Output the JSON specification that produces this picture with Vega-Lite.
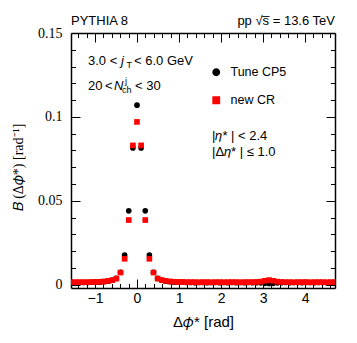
{
  "$schema": "https://vega.github.io/schema/vega-lite/v6.json",
  "width": 264,
  "height": 255,
  "autosize": {"type": "none"},
  "padding": {"left": 71, "top": 33, "right": 22, "bottom": 55},
  "background": "white",
  "config": {
    "view": {"stroke": null},
    "axis": {"domainColor": "black", "domainWidth": 1.5, "tickColor": "black", "tickWidth": 1, "grid": false, "labelColor": "black", "titleColor": "black"},
    "legend": {"padding": 0}
  },
  "datasets": {
    "dist": [
      {"x": -1.5708, "B": 0.0013, "err": 0.0002, "model": "Tune CP5"},
      {"x": -1.4726, "B": 0.0013, "err": 0.0002, "model": "Tune CP5"},
      {"x": -1.3744, "B": 0.0013, "err": 0.0002, "model": "Tune CP5"},
      {"x": -1.2763, "B": 0.0013, "err": 0.0002, "model": "Tune CP5"},
      {"x": -1.1781, "B": 0.0013, "err": 0.0002, "model": "Tune CP5"},
      {"x": -1.0799, "B": 0.0014, "err": 0.0002, "model": "Tune CP5"},
      {"x": -0.9817, "B": 0.0014, "err": 0.0002, "model": "Tune CP5"},
      {"x": -0.8836, "B": 0.0015, "err": 0.0002, "model": "Tune CP5"},
      {"x": -0.7854, "B": 0.0017, "err": 0.0002, "model": "Tune CP5"},
      {"x": -0.6872, "B": 0.0020, "err": 0.0002, "model": "Tune CP5"},
      {"x": -0.5890, "B": 0.0026, "err": 0.0002, "model": "Tune CP5"},
      {"x": -0.4909, "B": 0.0037, "err": 0.0002, "model": "Tune CP5"},
      {"x": -0.3927, "B": 0.0074, "err": 0.0003, "model": "Tune CP5"},
      {"x": -0.2945, "B": 0.0176, "err": 0.0004, "model": "Tune CP5"},
      {"x": -0.1963, "B": 0.0440, "err": 0.0006, "model": "Tune CP5"},
      {"x": -0.0982, "B": 0.0815, "err": 0.0008, "model": "Tune CP5"},
      {"x": 0.0, "B": 0.1070, "err": 0.0009, "model": "Tune CP5"},
      {"x": 0.0982, "B": 0.0815, "err": 0.0008, "model": "Tune CP5"},
      {"x": 0.1963, "B": 0.0440, "err": 0.0006, "model": "Tune CP5"},
      {"x": 0.2945, "B": 0.0176, "err": 0.0004, "model": "Tune CP5"},
      {"x": 0.3927, "B": 0.0074, "err": 0.0003, "model": "Tune CP5"},
      {"x": 0.4909, "B": 0.0037, "err": 0.0002, "model": "Tune CP5"},
      {"x": 0.5890, "B": 0.0026, "err": 0.0002, "model": "Tune CP5"},
      {"x": 0.6872, "B": 0.0020, "err": 0.0002, "model": "Tune CP5"},
      {"x": 0.7854, "B": 0.0017, "err": 0.0002, "model": "Tune CP5"},
      {"x": 0.8836, "B": 0.0015, "err": 0.0002, "model": "Tune CP5"},
      {"x": 0.9817, "B": 0.0014, "err": 0.0002, "model": "Tune CP5"},
      {"x": 1.0799, "B": 0.0014, "err": 0.0002, "model": "Tune CP5"},
      {"x": 1.1781, "B": 0.0013, "err": 0.0002, "model": "Tune CP5"},
      {"x": 1.2763, "B": 0.0013, "err": 0.0002, "model": "Tune CP5"},
      {"x": 1.3744, "B": 0.0012, "err": 0.0002, "model": "Tune CP5"},
      {"x": 1.4726, "B": 0.0013, "err": 0.0002, "model": "Tune CP5"},
      {"x": 1.5708, "B": 0.0013, "err": 0.0002, "model": "Tune CP5"},
      {"x": 1.6690, "B": 0.0012, "err": 0.0002, "model": "Tune CP5"},
      {"x": 1.7671, "B": 0.0013, "err": 0.0002, "model": "Tune CP5"},
      {"x": 1.8653, "B": 0.0013, "err": 0.0002, "model": "Tune CP5"},
      {"x": 1.9635, "B": 0.0012, "err": 0.0002, "model": "Tune CP5"},
      {"x": 2.0617, "B": 0.0013, "err": 0.0002, "model": "Tune CP5"},
      {"x": 2.1598, "B": 0.0012, "err": 0.0002, "model": "Tune CP5"},
      {"x": 2.2580, "B": 0.0013, "err": 0.0002, "model": "Tune CP5"},
      {"x": 2.3562, "B": 0.0012, "err": 0.0002, "model": "Tune CP5"},
      {"x": 2.4544, "B": 0.0013, "err": 0.0002, "model": "Tune CP5"},
      {"x": 2.5525, "B": 0.0012, "err": 0.0002, "model": "Tune CP5"},
      {"x": 2.6507, "B": 0.0013, "err": 0.0002, "model": "Tune CP5"},
      {"x": 2.7489, "B": 0.0012, "err": 0.0002, "model": "Tune CP5"},
      {"x": 2.8471, "B": 0.0012, "err": 0.0002, "model": "Tune CP5"},
      {"x": 2.9452, "B": 0.0011, "err": 0.0003, "model": "Tune CP5"},
      {"x": 3.0434, "B": 0.0008, "err": 0.0004, "model": "Tune CP5"},
      {"x": 3.1416, "B": 0.0007, "err": 0.0004, "model": "Tune CP5"},
      {"x": 3.2398, "B": 0.0008, "err": 0.0004, "model": "Tune CP5"},
      {"x": 3.3379, "B": 0.0011, "err": 0.0003, "model": "Tune CP5"},
      {"x": 3.4361, "B": 0.0012, "err": 0.0002, "model": "Tune CP5"},
      {"x": 3.5343, "B": 0.0013, "err": 0.0002, "model": "Tune CP5"},
      {"x": 3.6325, "B": 0.0012, "err": 0.0002, "model": "Tune CP5"},
      {"x": 3.7306, "B": 0.0013, "err": 0.0002, "model": "Tune CP5"},
      {"x": 3.8288, "B": 0.0013, "err": 0.0002, "model": "Tune CP5"},
      {"x": 3.9270, "B": 0.0012, "err": 0.0002, "model": "Tune CP5"},
      {"x": 4.0252, "B": 0.0013, "err": 0.0002, "model": "Tune CP5"},
      {"x": 4.1233, "B": 0.0013, "err": 0.0002, "model": "Tune CP5"},
      {"x": 4.2215, "B": 0.0012, "err": 0.0002, "model": "Tune CP5"},
      {"x": 4.3197, "B": 0.0013, "err": 0.0002, "model": "Tune CP5"},
      {"x": 4.4179, "B": 0.0013, "err": 0.0002, "model": "Tune CP5"},
      {"x": 4.5160, "B": 0.0012, "err": 0.0002, "model": "Tune CP5"},
      {"x": 4.6142, "B": 0.0013, "err": 0.0002, "model": "Tune CP5"},
      {"x": 4.7124, "B": 0.0013, "err": 0.0002, "model": "Tune CP5"},
      {"x": -1.5708, "B": 0.0015, "err": 0.0002, "model": "new CR"},
      {"x": -1.4726, "B": 0.0015, "err": 0.0002, "model": "new CR"},
      {"x": -1.3744, "B": 0.0015, "err": 0.0002, "model": "new CR"},
      {"x": -1.2763, "B": 0.0015, "err": 0.0002, "model": "new CR"},
      {"x": -1.1781, "B": 0.0015, "err": 0.0002, "model": "new CR"},
      {"x": -1.0799, "B": 0.0016, "err": 0.0002, "model": "new CR"},
      {"x": -0.9817, "B": 0.0016, "err": 0.0002, "model": "new CR"},
      {"x": -0.8836, "B": 0.0017, "err": 0.0002, "model": "new CR"},
      {"x": -0.7854, "B": 0.0019, "err": 0.0002, "model": "new CR"},
      {"x": -0.6872, "B": 0.0022, "err": 0.0002, "model": "new CR"},
      {"x": -0.5890, "B": 0.0027, "err": 0.0002, "model": "new CR"},
      {"x": -0.4909, "B": 0.0036, "err": 0.0002, "model": "new CR"},
      {"x": -0.3927, "B": 0.0072, "err": 0.0003, "model": "new CR"},
      {"x": -0.2945, "B": 0.0154, "err": 0.0004, "model": "new CR"},
      {"x": -0.1963, "B": 0.0385, "err": 0.0007, "model": "new CR"},
      {"x": -0.0982, "B": 0.0830, "err": 0.0010, "model": "new CR"},
      {"x": 0.0, "B": 0.0970, "err": 0.0012, "model": "new CR"},
      {"x": 0.0982, "B": 0.0830, "err": 0.0010, "model": "new CR"},
      {"x": 0.1963, "B": 0.0385, "err": 0.0007, "model": "new CR"},
      {"x": 0.2945, "B": 0.0154, "err": 0.0004, "model": "new CR"},
      {"x": 0.3927, "B": 0.0072, "err": 0.0003, "model": "new CR"},
      {"x": 0.4909, "B": 0.0036, "err": 0.0002, "model": "new CR"},
      {"x": 0.5890, "B": 0.0027, "err": 0.0002, "model": "new CR"},
      {"x": 0.6872, "B": 0.0022, "err": 0.0002, "model": "new CR"},
      {"x": 0.7854, "B": 0.0019, "err": 0.0002, "model": "new CR"},
      {"x": 0.8836, "B": 0.0017, "err": 0.0002, "model": "new CR"},
      {"x": 0.9817, "B": 0.0016, "err": 0.0002, "model": "new CR"},
      {"x": 1.0799, "B": 0.0016, "err": 0.0002, "model": "new CR"},
      {"x": 1.1781, "B": 0.0015, "err": 0.0002, "model": "new CR"},
      {"x": 1.2763, "B": 0.0015, "err": 0.0002, "model": "new CR"},
      {"x": 1.3744, "B": 0.0015, "err": 0.0002, "model": "new CR"},
      {"x": 1.4726, "B": 0.0014, "err": 0.0002, "model": "new CR"},
      {"x": 1.5708, "B": 0.0015, "err": 0.0002, "model": "new CR"},
      {"x": 1.6690, "B": 0.0015, "err": 0.0002, "model": "new CR"},
      {"x": 1.7671, "B": 0.0014, "err": 0.0002, "model": "new CR"},
      {"x": 1.8653, "B": 0.0015, "err": 0.0002, "model": "new CR"},
      {"x": 1.9635, "B": 0.0015, "err": 0.0002, "model": "new CR"},
      {"x": 2.0617, "B": 0.0014, "err": 0.0002, "model": "new CR"},
      {"x": 2.1598, "B": 0.0015, "err": 0.0002, "model": "new CR"},
      {"x": 2.2580, "B": 0.0015, "err": 0.0002, "model": "new CR"},
      {"x": 2.3562, "B": 0.0015, "err": 0.0002, "model": "new CR"},
      {"x": 2.4544, "B": 0.0014, "err": 0.0002, "model": "new CR"},
      {"x": 2.5525, "B": 0.0015, "err": 0.0002, "model": "new CR"},
      {"x": 2.6507, "B": 0.0015, "err": 0.0002, "model": "new CR"},
      {"x": 2.7489, "B": 0.0015, "err": 0.0002, "model": "new CR"},
      {"x": 2.8471, "B": 0.0016, "err": 0.0002, "model": "new CR"},
      {"x": 2.9452, "B": 0.0018, "err": 0.0003, "model": "new CR"},
      {"x": 3.0434, "B": 0.0023, "err": 0.0003, "model": "new CR"},
      {"x": 3.1416, "B": 0.0027, "err": 0.0003, "model": "new CR"},
      {"x": 3.2398, "B": 0.0023, "err": 0.0003, "model": "new CR"},
      {"x": 3.3379, "B": 0.0018, "err": 0.0003, "model": "new CR"},
      {"x": 3.4361, "B": 0.0016, "err": 0.0002, "model": "new CR"},
      {"x": 3.5343, "B": 0.0015, "err": 0.0002, "model": "new CR"},
      {"x": 3.6325, "B": 0.0015, "err": 0.0002, "model": "new CR"},
      {"x": 3.7306, "B": 0.0014, "err": 0.0002, "model": "new CR"},
      {"x": 3.8288, "B": 0.0015, "err": 0.0002, "model": "new CR"},
      {"x": 3.9270, "B": 0.0015, "err": 0.0002, "model": "new CR"},
      {"x": 4.0252, "B": 0.0015, "err": 0.0002, "model": "new CR"},
      {"x": 4.1233, "B": 0.0014, "err": 0.0002, "model": "new CR"},
      {"x": 4.2215, "B": 0.0015, "err": 0.0002, "model": "new CR"},
      {"x": 4.3197, "B": 0.0015, "err": 0.0002, "model": "new CR"},
      {"x": 4.4179, "B": 0.0015, "err": 0.0002, "model": "new CR"},
      {"x": 4.5160, "B": 0.0014, "err": 0.0002, "model": "new CR"},
      {"x": 4.6142, "B": 0.0015, "err": 0.0002, "model": "new CR"},
      {"x": 4.7124, "B": 0.0015, "err": 0.0002, "model": "new CR"}
    ]
  },
  "layer": [
    {
      "data": {"name": "dist"},
      "mark": {"type": "errorbar", "ticks": false, "thickness": 1, "clip": true},
      "encoding": {
        "x": {"field": "x", "type": "quantitative", "scale": {"domain": [-1.5708, 4.7124], "nice": false, "zero": false},
          "axis": {"orient": "top", "title": null, "labels": false, "values": [-1.4,-1.2,-1,-0.8,-0.6,-0.4,-0.2,0,0.2,0.4,0.6,0.8,1,1.2,1.4,1.6,1.8,2,2.2,2.4,2.6,2.8,3,3.2,3.4,3.6,3.8,4,4.2,4.4,4.6],
            "tickSize": {"condition": {"test": "abs(datum.value - round(datum.value)) < 0.001", "value": -9}, "value": -4.5}}},
        "y": {"field": "B", "type": "quantitative", "scale": {"domain": [-0.002, 0.15], "nice": false, "zero": false},
          "axis": {"orient": "right", "title": null, "labels": false, "values": [0,0.01,0.02,0.03,0.04,0.05,0.06,0.07,0.08,0.09,0.1,0.11,0.12,0.13,0.14,0.15],
            "tickSize": {"condition": {"test": "abs(datum.value*20 - round(datum.value*20)) < 0.001", "value": -9}, "value": -4.5}}},
        "yError": {"field": "err"},
        "color": {"field": "model", "type": "nominal", "scale": {"domain": ["Tune CP5", "new CR"], "range": ["#000000", "#ff0000"]},
          "legend": {"title": null, "orient": "none", "legendX": 139, "legendY": 33, "labelFont": "Liberation Sans", "labelFontSize": 12.5, "symbolSize": 40, "rowPadding": 15, "labelOffset": 8}}
      }
    },
    {
      "data": {"name": "dist"},
      "mark": {"type": "point", "filled": true, "opacity": 1, "size": 32, "clip": true},
      "encoding": {
        "x": {"field": "x", "type": "quantitative", "scale": {"domain": [-1.5708, 4.7124], "nice": false, "zero": false},
          "axis": {"orient": "bottom", "title": "Δ𝜙* [rad]", "titleFont": "Liberation Sans", "titleFontSize": 15, "titleFontWeight": "normal", "titlePadding": 5,
            "labelFont": "Liberation Sans", "labelFontSize": 14, "labelPadding": 12, "labelFlush": false, "labelOverlap": false,
            "values": [-1.4,-1.2,-1,-0.8,-0.6,-0.4,-0.2,0,0.2,0.4,0.6,0.8,1,1.2,1.4,1.6,1.8,2,2.2,2.4,2.6,2.8,3,3.2,3.4,3.6,3.8,4,4.2,4.4,4.6],
            "labelExpr": "abs(datum.value - round(datum.value)) < 0.001 ? format(datum.value, 'd') : ''",
            "tickSize": {"condition": {"test": "abs(datum.value - round(datum.value)) < 0.001", "value": -9}, "value": -4.5}}},
        "y": {"field": "B", "type": "quantitative", "scale": {"domain": [-0.002, 0.15], "nice": false, "zero": false},
          "axis": {"orient": "left", "title": "𝐵 (Δ𝜙*) [rad⁻¹]", "titleFont": "Liberation Serif", "titleFontSize": 14, "titleFontWeight": "normal", "titlePadding": 12, "titleY": 134,
            "labelFont": "Liberation Serif", "labelFontSize": 14, "labelPadding": 18, "labelFlush": false, "labelOverlap": false,
            "values": [0,0.01,0.02,0.03,0.04,0.05,0.06,0.07,0.08,0.09,0.1,0.11,0.12,0.13,0.14,0.15],
            "labelExpr": "abs(datum.value*20 - round(datum.value*20)) < 0.001 ? '' + (round(datum.value*100)/100) : ''",
            "tickSize": {"condition": {"test": "abs(datum.value*20 - round(datum.value*20)) < 0.001", "value": -9}, "value": -4.5}}},
        "color": {"field": "model", "type": "nominal", "scale": {"domain": ["Tune CP5", "new CR"], "range": ["#000000", "#ff0000"]},
          "legend": {"title": null, "orient": "none", "legendX": 139, "legendY": 33, "labelFont": "Liberation Sans", "labelFontSize": 12.5, "symbolSize": 40, "rowPadding": 15, "labelOffset": 8}},
        "shape": {"field": "model", "type": "nominal", "scale": {"domain": ["Tune CP5", "new CR"], "range": ["circle", "square"]},
          "legend": {"title": null, "orient": "none", "legendX": 139, "legendY": 33, "labelFont": "Liberation Sans", "labelFontSize": 12.5, "symbolSize": 40, "rowPadding": 15, "labelOffset": 8}}
      }
    },
    {
      "data": {"values": [{}]},
      "mark": {"type": "text", "text": "PYTHIA 8", "align": "left", "baseline": "alphabetic", "dy": -8, "font": "Liberation Sans", "fontSize": 13},
      "encoding": {"x": {"datum": -1.5708, "type": "quantitative", "axis": null}, "y": {"datum": 0.15, "type": "quantitative", "axis": null}}
    },
    {
      "data": {"values": [{}]},
      "mark": {"type": "text", "text": "pp  √s̅ = 13.6 TeV", "align": "right", "baseline": "alphabetic", "dy": -8, "font": "Liberation Sans", "fontSize": 13},
      "encoding": {"x": {"datum": 4.7124, "type": "quantitative", "axis": null}, "y": {"datum": 0.15, "type": "quantitative", "axis": null}}
    },
    {
      "data": {"values": [{}]},
      "mark": {"type": "text", "text": "3.0 <", "align": "left", "baseline": "alphabetic", "font": "Liberation Sans", "fontSize": 13},
      "encoding": {"x": {"datum": -1.1662, "type": "quantitative", "axis": null}, "y": {"datum": 0.1309, "type": "quantitative", "axis": null}}
    },
    {
      "data": {"values": [{}]},
      "mark": {"type": "text", "text": "j", "align": "left", "baseline": "alphabetic", "font": "Liberation Sans", "fontStyle": "italic", "fontSize": 13},
      "encoding": {"x": {"datum": -0.381, "type": "quantitative", "axis": null}, "y": {"datum": 0.1309, "type": "quantitative", "axis": null}}
    },
    {
      "data": {"values": [{}]},
      "mark": {"type": "text", "text": "T", "align": "left", "baseline": "alphabetic", "font": "Liberation Sans", "fontSize": 9},
      "encoding": {"x": {"datum": -0.250, "type": "quantitative", "axis": null}, "y": {"datum": 0.1290, "type": "quantitative", "axis": null}}
    },
    {
      "data": {"values": [{}]},
      "mark": {"type": "text", "text": "< 6.0 GeV", "align": "left", "baseline": "alphabetic", "font": "Liberation Sans", "fontSize": 13},
      "encoding": {"x": {"datum": -0.0714, "type": "quantitative", "axis": null}, "y": {"datum": 0.1309, "type": "quantitative", "axis": null}}
    },
    {
      "data": {"values": [{}]},
      "mark": {"type": "text", "text": "20", "align": "left", "baseline": "alphabetic", "font": "Liberation Sans", "fontSize": 13},
      "encoding": {"x": {"datum": -1.1662, "type": "quantitative", "axis": null}, "y": {"datum": 0.1160, "type": "quantitative", "axis": null}}
    },
    {
      "data": {"values": [{}]},
      "mark": {"type": "text", "text": "<", "align": "left", "baseline": "alphabetic", "font": "Liberation Sans", "fontSize": 13},
      "encoding": {"x": {"datum": -0.7616, "type": "quantitative", "axis": null}, "y": {"datum": 0.1160, "type": "quantitative", "axis": null}}
    },
    {
      "data": {"values": [{}]},
      "mark": {"type": "text", "text": "N", "align": "left", "baseline": "alphabetic", "font": "Liberation Sans", "fontStyle": "italic", "fontSize": 13},
      "encoding": {"x": {"datum": -0.5474, "type": "quantitative", "axis": null}, "y": {"datum": 0.1160, "type": "quantitative", "axis": null}}
    },
    {
      "data": {"values": [{}]},
      "mark": {"type": "text", "text": "j", "align": "left", "baseline": "alphabetic", "font": "Liberation Sans", "fontSize": 9},
      "encoding": {"x": {"datum": -0.2856, "type": "quantitative", "axis": null}, "y": {"datum": 0.1198, "type": "quantitative", "axis": null}}
    },
    {
      "data": {"values": [{}]},
      "mark": {"type": "text", "text": "ch", "align": "left", "baseline": "alphabetic", "font": "Liberation Sans", "fontSize": 9},
      "encoding": {"x": {"datum": -0.3570, "type": "quantitative", "axis": null}, "y": {"datum": 0.1142, "type": "quantitative", "axis": null}}
    },
    {
      "data": {"values": [{}]},
      "mark": {"type": "text", "text": "< 30", "align": "left", "baseline": "alphabetic", "font": "Liberation Sans", "fontSize": 13},
      "encoding": {"x": {"datum": -0.0476, "type": "quantitative", "axis": null}, "y": {"datum": 0.1160, "type": "quantitative", "axis": null}}
    },
    {
      "data": {"values": [{}]},
      "mark": {"type": "text", "text": "|𝜂* | < 2.4", "align": "left", "baseline": "alphabetic", "font": "Liberation Sans", "fontSize": 13},
      "encoding": {"x": {"datum": 1.785, "type": "quantitative", "axis": null}, "y": {"datum": 0.0865, "type": "quantitative", "axis": null}}
    },
    {
      "data": {"values": [{}]},
      "mark": {"type": "text", "text": "|Δ𝜂* | ≤ 1.0", "align": "left", "baseline": "alphabetic", "font": "Liberation Sans", "fontSize": 13},
      "encoding": {"x": {"datum": 1.785, "type": "quantitative", "axis": null}, "y": {"datum": 0.0767, "type": "quantitative", "axis": null}}
    }
  ],
  "resolve": {"axis": {"x": "independent", "y": "independent"}}
}
